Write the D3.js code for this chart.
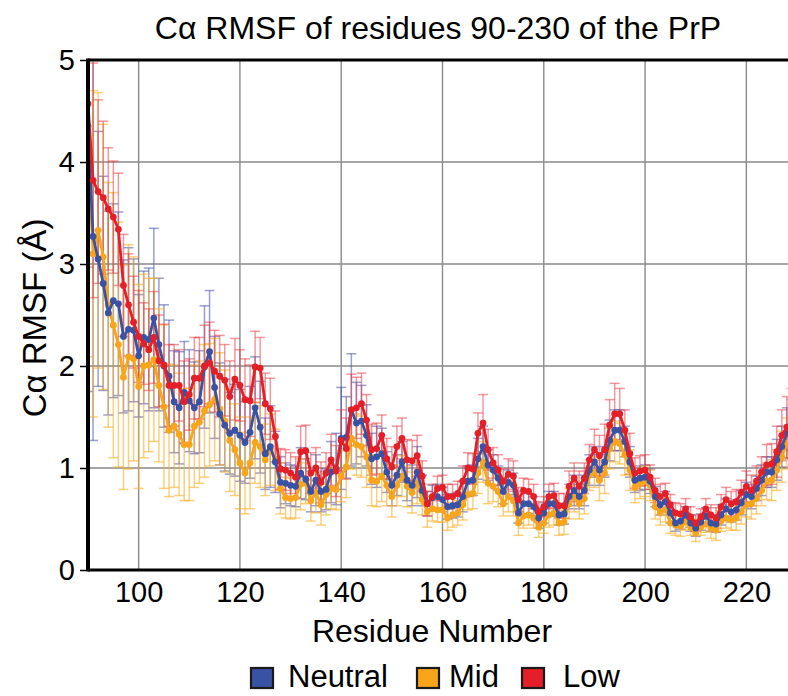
<!DOCTYPE html>
<html><head><meta charset="utf-8">
<script src="https://cdn.jsdelivr.net/npm/d3@7"></script>
<style>html,body{margin:0;padding:0;background:#fff;overflow:hidden}svg{display:block;font-family:"Liberation Sans",Arial,sans-serif}</style>
</head><body>
<svg id="c" width="788" height="696"></svg>
<script>
const residueStart = 90, residueEnd = 230;
const xTicks = [100,120,140,160,180,200,220];
const yTicks = [0,1,2,3,4,5];
const seriesNames = ["Neutral","Mid","Low"];
const seriesColors = ["#3a52a3","#f8a51c","#e41f28"];

const neutral = [4.35,3.27,3.05,2.81,2.52,2.64,2.61,2.29,2.36,2.35,
 2.10,2.28,2.26,2.47,2.21,2.00,1.90,1.65,1.59,1.74,
 1.66,1.59,1.65,1.99,2.14,1.79,1.53,1.42,1.34,1.37,
 1.32,1.25,1.35,1.59,1.40,1.14,1.21,1.06,0.86,0.85,
 0.83,0.82,0.95,0.89,0.77,0.88,0.77,0.79,0.96,0.99,
 1.29,1.30,1.57,1.44,1.46,1.32,1.09,1.11,1.14,0.96,
 0.83,0.93,1.06,0.88,0.83,0.96,0.78,0.65,0.71,0.72,
 0.69,0.62,0.63,0.64,0.72,0.87,0.88,1.09,1.21,1.03,
 0.98,0.90,0.77,0.86,0.83,0.56,0.65,0.65,0.62,0.51,
 0.56,0.65,0.65,0.54,0.55,0.72,0.78,0.72,0.78,0.98,
 1.06,0.98,1.06,1.27,1.37,1.37,1.26,1.06,0.88,0.90,
 0.91,0.87,0.72,0.64,0.67,0.56,0.46,0.48,0.54,0.46,
 0.41,0.47,0.53,0.46,0.45,0.54,0.60,0.57,0.59,0.66,
 0.74,0.72,0.80,0.88,0.96,0.96,1.08,1.21,1.34,1.42,1.50];
const mid = [4.09,3.10,3.33,3.07,2.60,2.40,2.21,1.89,2.09,2.07,
 1.80,2.00,2.01,2.06,1.81,1.60,1.37,1.41,1.33,1.23,
 1.23,1.41,1.45,1.56,1.62,1.67,1.58,1.46,1.27,1.18,
 1.05,0.95,1.05,1.25,1.21,1.08,1.18,1.08,0.80,0.71,
 0.70,0.71,0.84,0.85,0.68,0.76,0.64,0.74,0.80,0.79,
 0.92,1.01,1.29,1.23,1.21,1.11,0.88,0.87,0.92,0.83,
 0.72,0.83,0.92,0.82,0.76,0.85,0.69,0.57,0.60,0.59,
 0.59,0.51,0.54,0.56,0.64,0.74,0.75,0.95,1.06,0.85,
 0.82,0.77,0.65,0.72,0.68,0.46,0.53,0.54,0.51,0.42,
 0.46,0.54,0.56,0.46,0.47,0.65,0.72,0.65,0.70,0.93,
 0.96,0.88,0.95,1.19,1.26,1.24,1.13,0.98,0.81,0.85,
 0.87,0.83,0.62,0.56,0.59,0.46,0.44,0.43,0.47,0.42,
 0.36,0.42,0.45,0.41,0.39,0.48,0.51,0.49,0.51,0.57,
 0.64,0.65,0.70,0.78,0.87,0.88,0.98,1.11,1.24,1.32,1.40];
const low = [4.57,3.82,3.71,3.65,3.54,3.46,3.34,2.79,2.60,2.43,
 2.29,2.22,2.16,2.28,2.05,2.01,1.81,1.81,1.81,1.65,
 1.72,1.88,1.88,2.00,2.03,1.95,1.90,1.86,1.70,1.87,
 1.81,1.67,1.66,1.99,1.98,1.63,1.58,1.31,0.99,0.98,
 0.95,0.91,1.16,1.17,0.95,1.00,0.86,0.95,1.08,0.97,
 1.27,1.19,1.57,1.59,1.63,1.47,1.18,1.19,1.32,1.09,
 1.01,1.21,1.29,1.08,1.07,1.12,0.92,0.65,0.72,0.80,
 0.81,0.72,0.72,0.75,0.87,1.00,0.99,1.34,1.44,1.18,
 1.05,0.98,0.87,0.94,0.92,0.69,0.78,0.77,0.72,0.57,
 0.62,0.72,0.73,0.63,0.63,0.82,0.90,0.82,0.90,1.08,
 1.18,1.12,1.18,1.42,1.53,1.53,1.37,1.14,0.95,0.97,
 0.98,0.91,0.78,0.72,0.75,0.64,0.56,0.55,0.60,0.52,
 0.46,0.52,0.60,0.54,0.51,0.62,0.69,0.65,0.67,0.76,
 0.82,0.78,0.87,0.96,1.03,1.04,1.16,1.32,1.40,1.48,1.55];

const neutralErr = [2.6,2.0,1.25,1.05,1.0,0.95,0.9,0.75,0.8,0.7,
 0.6,0.65,0.7,0.88,0.65,0.6,0.55,0.5,0.55,0.5,
 0.5,0.45,0.5,0.6,0.6,0.5,0.5,0.45,0.4,0.45,
 0.45,0.4,0.45,0.5,0.45,0.35,0.4,0.3,0.25,0.2,
 0.2,0.2,0.25,0.2,0.2,0.25,0.2,0.2,0.3,0.35,
 0.5,0.4,0.55,0.4,0.35,0.3,0.25,0.3,0.25,0.2,
 0.2,0.2,0.2,0.2,0.2,0.25,0.15,0.12,0.12,0.12,
 0.12,0.12,0.12,0.12,0.15,0.15,0.15,0.2,0.2,0.15,
 0.15,0.12,0.12,0.12,0.12,0.1,0.12,0.1,0.1,0.1,
 0.1,0.12,0.12,0.1,0.1,0.12,0.15,0.12,0.15,0.15,
 0.15,0.15,0.15,0.2,0.2,0.2,0.15,0.15,0.12,0.12,
 0.12,0.12,0.1,0.1,0.1,0.1,0.08,0.08,0.08,0.08,
 0.08,0.08,0.08,0.08,0.08,0.1,0.1,0.1,0.1,0.12,
 0.12,0.12,0.12,0.15,0.15,0.15,0.2,0.2,0.25,0.25,0.25];
const midErr = [2.0,1.6,1.35,1.3,1.2,1.3,1.2,1.1,1.1,1.0,
 1.0,0.9,0.85,0.8,0.75,0.8,0.65,0.6,0.6,0.55,
 0.55,0.6,0.6,0.65,0.6,0.6,0.55,0.5,0.5,0.45,
 0.45,0.4,0.45,0.4,0.4,0.35,0.35,0.3,0.25,0.2,
 0.2,0.2,0.25,0.2,0.2,0.2,0.2,0.2,0.2,0.2,
 0.25,0.3,0.3,0.3,0.3,0.3,0.25,0.25,0.25,0.2,
 0.2,0.2,0.2,0.2,0.2,0.2,0.15,0.15,0.12,0.12,
 0.12,0.12,0.12,0.12,0.15,0.15,0.15,0.2,0.2,0.2,
 0.15,0.15,0.12,0.15,0.15,0.12,0.12,0.1,0.1,0.1,
 0.1,0.12,0.12,0.12,0.12,0.15,0.15,0.15,0.15,0.15,
 0.15,0.2,0.2,0.2,0.2,0.2,0.2,0.2,0.15,0.15,
 0.15,0.15,0.12,0.12,0.12,0.1,0.1,0.1,0.08,0.08,
 0.08,0.08,0.08,0.1,0.1,0.1,0.1,0.1,0.12,0.12,
 0.12,0.15,0.15,0.15,0.18,0.2,0.2,0.25,0.25,0.3,0.3];
const lowErr = [1.6,1.15,0.9,0.75,0.6,0.55,0.55,0.5,0.5,0.45,
 0.45,0.4,0.4,0.45,0.45,0.4,0.4,0.4,0.35,0.4,
 0.35,0.4,0.4,0.4,0.4,0.4,0.4,0.35,0.35,0.4,
 0.35,0.4,0.35,0.35,0.3,0.3,0.3,0.25,0.2,0.2,
 0.2,0.2,0.25,0.25,0.2,0.2,0.2,0.2,0.25,0.25,
 0.3,0.3,0.35,0.3,0.3,0.25,0.25,0.25,0.2,0.2,
 0.2,0.2,0.2,0.2,0.2,0.2,0.15,0.12,0.12,0.12,
 0.12,0.12,0.12,0.12,0.15,0.15,0.15,0.2,0.28,0.2,
 0.15,0.15,0.12,0.15,0.15,0.12,0.12,0.12,0.12,0.1,
 0.1,0.12,0.12,0.12,0.12,0.15,0.15,0.15,0.15,0.15,
 0.2,0.2,0.25,0.25,0.3,0.25,0.2,0.2,0.15,0.15,
 0.15,0.12,0.12,0.12,0.1,0.1,0.1,0.1,0.1,0.1,
 0.08,0.08,0.1,0.1,0.1,0.12,0.12,0.12,0.12,0.12,
 0.15,0.15,0.15,0.15,0.2,0.2,0.25,0.25,0.3,0.3,0.3];

const values = [neutral, mid, low];
const errors = [neutralErr, midErr, lowErr];
const errColors = ["rgba(70,80,170,0.55)","rgba(250,175,40,0.6)","rgba(235,50,60,0.5)"];

const svg = d3.select("#c");
const M = {left:88, top:60, right:797, bottom:570};
const x = d3.scaleLinear().domain([residueStart, residueEnd]).range([M.left, M.right]);
const y = d3.scaleLinear().domain([0,5]).range([M.bottom, M.top]);

svg.append("defs").append("clipPath").attr("id","plotclip")
  .append("rect").attr("x",M.left).attr("y",M.top).attr("width",M.right-M.left).attr("height",M.bottom-M.top);

// grid
const grid = svg.append("g");
grid.selectAll(".gx").data(xTicks).join("line")
  .attr("x1",d=>x(d)).attr("x2",d=>x(d)).attr("y1",M.top).attr("y2",M.bottom)
  .attr("stroke","#8a8a8a").attr("stroke-width",1.4);
grid.selectAll(".gy").data(yTicks.filter(d=>d>0&&d<5)).join("line")
  .attr("x1",M.left).attr("x2",M.right).attr("y1",d=>y(d)).attr("y2",d=>y(d))
  .attr("stroke","#8a8a8a").attr("stroke-width",1.4);

const plot = svg.append("g").attr("clip-path","url(#plotclip)");
const residues = d3.range(residueStart, residueEnd+1);

// error bars
values.forEach((vals,si)=>{
  const g = plot.append("g").attr("stroke",errColors[si]).attr("stroke-width",1.5).attr("fill","none");
  residues.forEach((r,i)=>{
    const v = vals[i], e = errors[si][i];
    const cx = x(r), yt = y(v+e), yb = y(v-e);
    g.append("line").attr("x1",cx).attr("x2",cx).attr("y1",yt).attr("y2",yb);
    g.append("line").attr("x1",cx-5).attr("x2",cx+5).attr("y1",yt).attr("y2",yt);
    g.append("line").attr("x1",cx-5).attr("x2",cx+5).attr("y1",yb).attr("y2",yb);
  });
});

// lines: orange, blue, red order
[1,0,2].forEach(si=>{
  const data = residues.map((r,i)=>[r, values[si][i]]);
  plot.append("path").datum(data)
    .attr("d", d3.line().x(d=>x(d[0])).y(d=>y(d[1])))
    .attr("fill","none").attr("stroke",seriesColors[si]).attr("stroke-width",2.8).attr("stroke-linejoin","round");
  plot.append("g").selectAll("circle").data(data).join("circle")
    .attr("cx",d=>x(d[0])).attr("cy",d=>y(d[1])).attr("r",3.4).attr("fill",seriesColors[si]);
});

// frame
svg.append("line").attr("x1",M.left).attr("x2",788).attr("y1",M.top).attr("y2",M.top).attr("stroke","#000").attr("stroke-width",3);
svg.append("line").attr("x1",M.left).attr("x2",788).attr("y1",M.bottom).attr("y2",M.bottom).attr("stroke","#000").attr("stroke-width",3);
svg.append("line").attr("x1",M.left).attr("x2",M.left).attr("y1",M.top-1.5).attr("y2",M.bottom+1.5).attr("stroke","#000").attr("stroke-width",4);

// y axis ticks + labels
const yAxis = d3.axisLeft(y).tickValues(yTicks).tickSize(6).tickPadding(5).tickFormat(d3.format("d"));
const ya = svg.append("g").attr("transform",`translate(${M.left-2},0)`).call(yAxis);
ya.select(".domain").remove();
ya.selectAll("line").attr("stroke","#000").attr("stroke-width",1.5);
ya.selectAll("text").attr("font-size",29).attr("fill","#000").attr("font-family","Liberation Sans, Arial, sans-serif");

// x axis labels
const xAxis = d3.axisBottom(x).tickValues(xTicks).tickSize(0).tickPadding(11).tickFormat(d3.format("d"));
const xa = svg.append("g").attr("transform",`translate(0,${M.bottom})`).call(xAxis);
xa.select(".domain").remove();
xa.selectAll("text").attr("font-size",29).attr("fill","#000").attr("font-family","Liberation Sans, Arial, sans-serif");

// titles
svg.append("text").attr("x",438).attr("y",39).attr("text-anchor","middle").attr("font-size",32).text("Cα RMSF of residues 90-230 of the PrP");
svg.append("text").attr("x",432).attr("y",642).attr("text-anchor","middle").attr("font-size",32).text("Residue Number");
svg.append("text").attr("transform","translate(46,318) rotate(-90)").attr("text-anchor","middle").attr("font-size",33).text("Cα RMSF (Å)");

// legend
const legX = [251,417,522];
const legText = [288,449,563];
const lg = svg.append("g");
seriesNames.forEach((n,i)=>{
  lg.append("rect").attr("x",legX[i]).attr("y",668).attr("width",22).attr("height",20)
    .attr("fill",seriesColors[i]).attr("stroke","#1a1a1a").attr("stroke-width",2.2);
  lg.append("text").attr("x",legText[i]).attr("y",687).attr("font-size",31).text(n);
});
</script>
</body></html>
